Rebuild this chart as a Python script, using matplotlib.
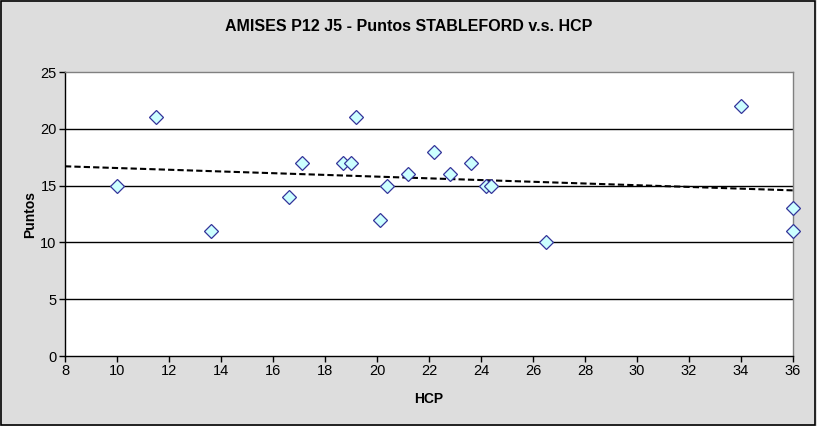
import numpy as np
import matplotlib.pyplot as plt
from matplotlib.patches import Rectangle

plt.rcParams['font.family'] = ['Liberation Sans', 'DejaVu Sans']

# HCP and Stableford points
hcp = [10.0, 11.5, 13.6, 16.6, 17.1, 18.7, 19.0, 19.2, 20.1, 20.4, 21.2,
       22.2, 22.8, 23.6, 24.2, 24.4, 26.5, 34.0, 36.0, 36.0]
puntos = [15, 21, 11, 14, 17, 17, 17, 21, 12, 15, 16,
          18, 16, 17, 15, 15, 10, 22, 13, 11]
x_ticks = list(range(8, 37, 2))
y_ticks = [0, 5, 10, 15, 20, 25]

fig = plt.figure(figsize=(8.17, 4.26), dpi=100, facecolor='#dddddd')
fig.patches.append(Rectangle((0.001, 0.002), 0.997, 0.996, transform=fig.transFigure,
                             fill=False, edgecolor='black', linewidth=1.2))

ax = fig.add_axes([65/817, 70/426, 728/817, 284/426])
ax.set_facecolor('white')

# horizontal gridlines
for y in y_ticks[1:-1]:
    ax.axhline(y, color='black', linewidth=1.0, zorder=1)

# linear trendline
m, b = np.polyfit(hcp, puntos, 1)
xs = np.array([8, 36])
ax.plot(xs, m*xs + b, color='black', linestyle=(0, (3, 1.5)), linewidth=1.5, zorder=2)

ax.plot(hcp, puntos, linestyle='none', marker='D', markersize=7.5,
        markerfacecolor='#ccffff', markeredgecolor='#333399', markeredgewidth=0.9,
        zorder=3, clip_on=False)

ax.set_xlim(8, 36)
ax.set_ylim(0, 25)
ax.set_xticks(x_ticks)
ax.set_yticks(y_ticks)
ax.tick_params(direction='out', length=4, width=1, labelsize=10.5, colors='black', pad=2)

for side in ['top', 'right']:
    ax.spines[side].set_color('#808080')
    ax.spines[side].set_linewidth(1.0)
for side in ['left', 'bottom']:
    ax.spines[side].set_color('black')
    ax.spines[side].set_linewidth(1.0)

ax.set_xlabel('HCP', fontsize=10, fontweight='bold', labelpad=10)
ax.set_ylabel('Puntos', fontsize=10, fontweight='bold', labelpad=2)
fig.suptitle('AMISES P12 J5 - Puntos STABLEFORD v.s. HCP', fontsize=11.5,
             fontweight='bold', x=0.5, y=0.955)

fig.savefig('out.png', dpi=100, facecolor=fig.get_facecolor())
